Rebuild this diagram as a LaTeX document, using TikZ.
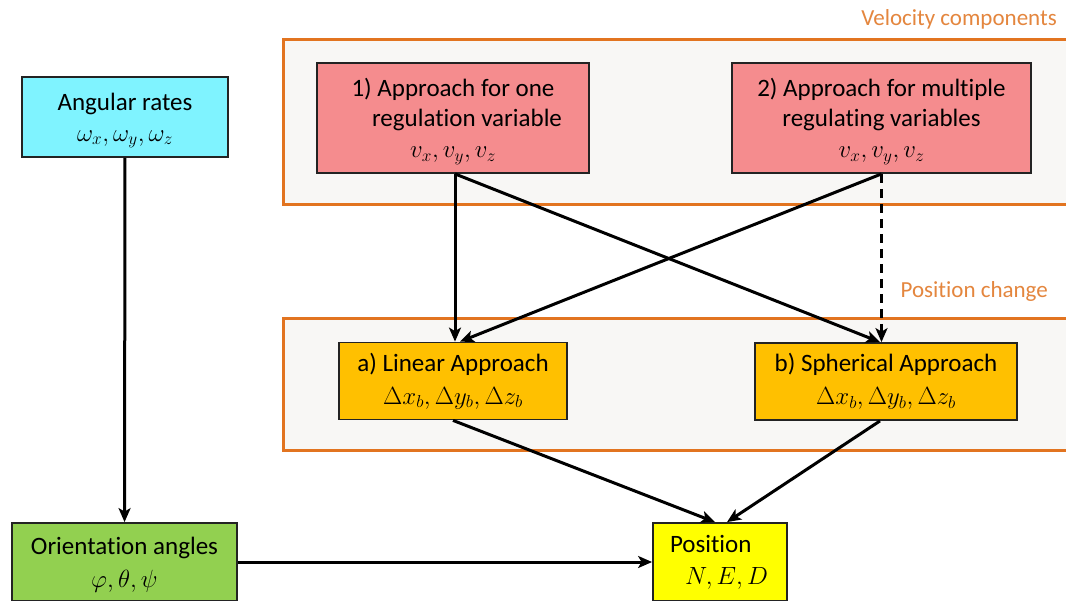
\documentclass[tikz,border=0pt]{standalone}
\usepackage{fontspec}
\setmainfont{Carlito}[Ligatures=NoCommon]
\usetikzlibrary{arrows.meta,calc}
\definecolor{frameor}{RGB}{226,116,32}
\definecolor{labelor}{RGB}{228,134,62}
\definecolor{framefill}{RGB}{248,247,245}
\definecolor{cyanbox}{RGB}{127,243,255}
\definecolor{pinkbox}{RGB}{245,140,142}
\definecolor{orangebox}{RGB}{255,192,0}
\definecolor{greenbox}{RGB}{146,208,80}
\definecolor{yellowbox}{RGB}{255,255,0}
\definecolor{boxline}{RGB}{35,35,35}
\begin{document}
\begin{tikzpicture}[x=1pt,y=-1pt,
  box/.style={draw=boxline, line width=1.8pt, align=center, inner sep=0pt,
    font=\fontsize{25}{30}\selectfont},
  flatbox/.style={box, text depth=0pt},
  groupframe/.style={draw=frameor, line width=3pt, fill=framefill},
  grouplabel/.style={text=labelor, font=\fontsize{23}{28}\selectfont, inner sep=0pt},
  arr/.style={-{Stealth[length=14pt,width=12pt,inset=3.5pt]}, line width=3pt, black},
  dasharr/.style={-{Stealth[length=14pt,width=12pt,inset=3.5pt]}, line width=2.2pt, black, dash pattern=on 9pt off 6pt},
]
\useasboundingbox (0,0) rectangle (1066,600);
\fill[white] (0,0) rectangle (1066,600);

% group frames
\draw[groupframe] (283,39) rectangle (1075,204);
\draw[groupframe] (283,318) rectangle (1075,450);
\node[grouplabel, anchor=base east] (vlab) at (1057,25) {Velocity components};
\node[grouplabel, anchor=base east] (plab) at (1048,297) {Position change};

% boxes
\node[flatbox, fill=cyanbox, minimum width=206pt, minimum height=80pt] (ang) at (125,117)
  {Angular rates\\[1pt] $\omega_x,\omega_y,\omega_z$};
\node[flatbox, fill=greenbox, minimum width=225pt, minimum height=78pt] (ori) at (124.5,562)
  {Orientation angles\\[3pt] $\varphi,\theta,\psi$};
\node[box, fill=yellowbox, minimum height=78pt, text width=100pt, inner xsep=17pt, align=left] (pos) at (720,562)
  {Position\\[2pt]\hspace*{15pt}$N,E,D$};
\node[flatbox, fill=pinkbox, minimum width=272pt, minimum height=110pt] (b1) at (453,118)
  {1) Approach for one\\\hspace*{28pt}regulation variable\\[1pt] $v_x,v_y,v_z$};
\node[flatbox, fill=pinkbox, minimum width=299pt, minimum height=110pt] (b2) at (881.5,118)
  {2) Approach for multiple\\regulating variables\\[1pt] $v_x,v_y,v_z$};
\node[box, fill=orangebox, minimum width=228pt, minimum height=77pt] (a) at (453,381)
  {a) Linear Approach\\[3pt] $\Delta x_b,\Delta y_b,\Delta z_b$};
\node[box, fill=orangebox, minimum width=262pt, minimum height=77pt] (b) at (886,381.5)
  {b) Spherical Approach\\[3pt] $\Delta x_b,\Delta y_b,\Delta z_b$};

% connectors
\draw[arr] (ang) -- (ori);
\draw[arr] (ori) -- (pos);
\draw[arr] ([xshift=2pt]b1.south) -- ([xshift=2pt]a.north);
\draw[arr] ([xshift=2pt]b1.south) -- ([xshift=-6pt]b.north);
\draw[arr] (b2.south) -- ([xshift=7pt]a.north);
\draw[dasharr] (b2.south) -- (b2.south |- b.north);
\draw[arr] (a.south) -- ([xshift=-5pt]pos.north);
\draw[arr] ([xshift=-6pt]b.south) -- ([xshift=7pt]pos.north);
\end{tikzpicture}
\end{document}
